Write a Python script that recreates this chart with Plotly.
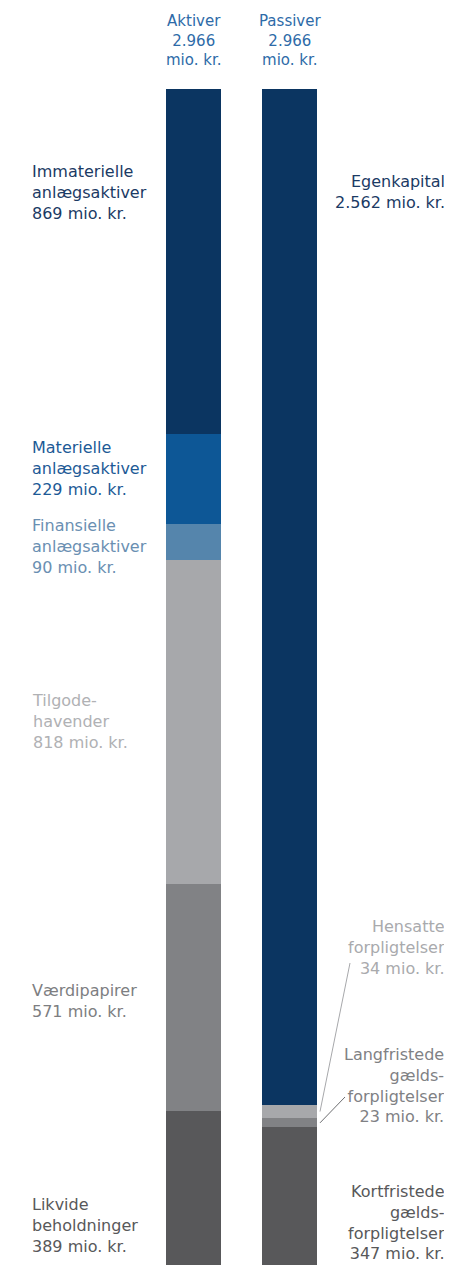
import plotly.graph_objects as go

# page body has an 8px default margin; compensate so positions match the reference
OFF = 8
W, H = 452 - OFF, 1265 - OFF
TOP = 89 - OFF

# ---- data ----
aktiver_names = ["Immaterielle anlægsaktiver", "Materielle anlægsaktiver", "Finansielle anlægsaktiver",
                 "Tilgodehavender", "Værdipapirer", "Likvide beholdninger"]
aktiver_values = [869, 229, 90, 818, 571, 389]
passiver_names = ["Egenkapital", "Hensatte forpligtelser", "Langfristede gældsforpligtelser",
                  "Kortfristede gældsforpligtelser"]
passiver_values = [2562, 34, 23, 347]
aktiver_total = 2966
passiver_total = 2966

aktiver_labels = ["Immaterielle<br>anlægsaktiver<br>869 mio. kr.",
                  "Materielle<br>anlægsaktiver<br>229 mio. kr.",
                  "Finansielle<br>anlægsaktiver<br>90 mio. kr.",
                  "Tilgode-<br>havender<br>818 mio. kr.",
                  "Værdipapirer<br>571 mio. kr.",
                  "Likvide<br>beholdninger<br>389 mio. kr."]
passiver_labels = ["Egenkapital<br>2.562 mio. kr.",
                   "Hensatte<br>forpligtelser<br>34 mio. kr.",
                   "Langfristede<br>gælds-<br>forpligtelser<br>23 mio. kr.",
                   "Kortfristede<br>gælds-<br>forpligtelser<br>347 mio. kr."]
headers = ["Aktiver<br>2.966<br>mio. kr.", "Passiver<br>2.966<br>mio. kr."]

# ---- styles (positions in reference-page pixels) ----
aktiver_colors = ["#0b3561", "#0d5796", "#5585ac", "#a7a8ab", "#818285", "#58585a"]
aktiver_text_colors = ["#1b3a64", "#1d5a96", "#6a8fb2", "#b0b1b4", "#7d7e81", "#58585a"]
passiver_colors = ["#0b3561", "#a7a8ab", "#818285", "#58585a"]
passiver_text_colors = ["#1b3a64", "#a9aaad", "#808184", "#58585a"]
aktiver_label_py = [192, 469, 546, 721, 1001, 1225]
passiver_label_py = [192, 947, 1085, 1222]
X_AKT, X_PAS, BW = 193.5, 289.5, 55
FONT = "DejaVu Sans"


def py(p):
    return 1 - (p - OFF) / H


def px(p):
    return p - OFF


fig = go.Figure()
for name, v, c in zip(aktiver_names, aktiver_values, aktiver_colors):
    fig.add_bar(x=[px(X_AKT)], y=[v], width=BW, marker=dict(color=c, line=dict(width=0)),
                name=name, hoverinfo="skip")
for name, v, c in zip(passiver_names, passiver_values, passiver_colors):
    fig.add_bar(x=[px(X_PAS)], y=[v], width=BW, marker=dict(color=c, line=dict(width=0)),
                name=name, hoverinfo="skip")

ann = []
for t, c, p in zip(aktiver_labels, aktiver_text_colors, aktiver_label_py):
    ann.append(dict(text=t, x=px(30), y=py(p), xref="x", yref="paper", xanchor="left", yanchor="middle",
                    align="left", showarrow=False, font=dict(family=FONT, size=16, color=c)))
for t, c, p in zip(passiver_labels, passiver_text_colors, passiver_label_py):
    ann.append(dict(text=t, x=px(447), y=py(p), xref="x", yref="paper", xanchor="right", yanchor="middle",
                    align="right", showarrow=False, font=dict(family=FONT, size=16, color=c)))
for t, x in zip(headers, [X_AKT, X_PAS]):
    ann.append(dict(text=t, x=px(x), y=py(41), xref="x", yref="paper", xanchor="center", yanchor="middle",
                    align="center", showarrow=False, font=dict(family=FONT, size=15, color="#2e6ba8")))

# leader lines from small passiver segments to their labels
scale = (H - TOP) / passiver_total
cum = [sum(passiver_values[:i]) for i in range(len(passiver_values))]
mid_h = cum[1] + passiver_values[1] / 2
mid_l = cum[2] + passiver_values[2] / 2
shapes = [
    dict(type="line", xref="x", yref="y", x0=px(320), y0=mid_h, x1=px(350), y1=(963 - 89) / scale,
         line=dict(color="#a7a8ab", width=1)),
    dict(type="line", xref="x", yref="y", x0=px(320), y0=mid_l, x1=px(345), y1=(1097 - 89) / scale,
         line=dict(color="#6d6e71", width=1)),
]

fig.update_layout(
    width=W, height=H, margin=dict(l=0, r=0, t=0, b=0),
    paper_bgcolor="white", plot_bgcolor="white",
    barmode="stack", bargap=0, showlegend=False,
    xaxis=dict(range=[0, W], visible=False, fixedrange=True),
    yaxis=dict(range=[aktiver_total, 0], domain=[0, 1 - TOP / H], visible=False, fixedrange=True),
    annotations=ann, shapes=shapes,
)
fig.write_html("out.html")
